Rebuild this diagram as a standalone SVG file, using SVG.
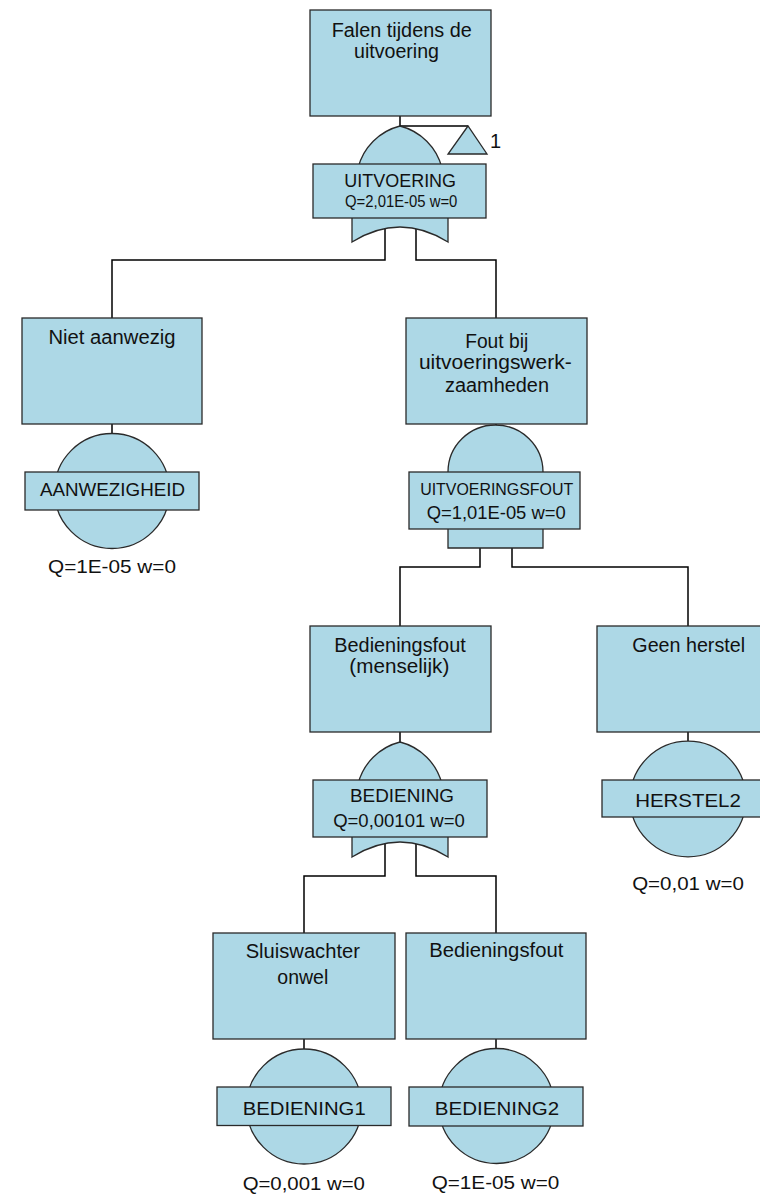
<svg xmlns="http://www.w3.org/2000/svg" width="760" height="1198" viewBox="0 0 760 1198">
<style>
.bx{fill:#ADD8E6;stroke:#2a2a2a;stroke-width:1.3}
.cn{fill:none;stroke:#000;stroke-width:1.5}
.t{font-family:"Liberation Sans",Arial,sans-serif;fill:#111;text-anchor:middle}
.b{font-size:20px}
.l{font-size:17.5px}
.e{font-size:18px}
</style>
<rect width="760" height="1198" fill="#fff"/>
<g id="connectors" class="cn">
<path d="M400,116 V126 H468"/>
<path d="M385,228 V260 H112 V318"/>
<path d="M416,228 V260 H496 V318"/>
<path d="M112,424 V433"/>
<path d="M496,424 V426"/>
<path d="M480,548 V567 H400 V626"/>
<path d="M512,548 V567 H688 V626"/>
<path d="M400,732 V742"/>
<path d="M688,732 V741"/>
<path d="M385,843 V876 H304 V933"/>
<path d="M416,843 V876 H496 V933"/>
<path d="M304,1039 V1049"/>
<path d="M496,1039 V1049"/>
</g>
<g id="top-uitvoering">
<rect class="bx" x="310" y="10" width="181" height="106"/>
<text class="t b" x="401.7" y="37" textLength="140" lengthAdjust="spacingAndGlyphs">Falen tijdens de</text>
<text class="t b" x="396.5" y="58" textLength="85" lengthAdjust="spacingAndGlyphs">uitvoering</text>
<path class="bx" d="M358,168 A58,58 0 0 1 400,126 A58,58 0 0 1 442,168 Z"/>
<path class="bx" d="M352,214 L352,242 Q400,212 448,242 L448,214 Z"/>
<rect class="bx" x="313" y="164" width="173" height="54"/>
<text class="t" style="font-size:18px" x="400.2" y="187.3" textLength="111.7" lengthAdjust="spacingAndGlyphs">UITVOERING</text>
<text class="t" style="font-size:16px" x="401.2" y="206.7" textLength="112.3" lengthAdjust="spacingAndGlyphs">Q=2,01E-05 w=0</text>
<polygon class="bx" points="468,126 448,154 487,154"/>
<text class="t b" x="490" y="148" style="text-anchor:start">1</text>
</g>
<g id="niet-aanwezig">
<rect class="bx" x="22" y="318" width="180" height="106"/>
<text class="t b" x="112" y="344" textLength="127" lengthAdjust="spacingAndGlyphs">Niet aanwezig</text>
<circle class="bx" cx="112" cy="491" r="57.5"/>
<rect class="bx" x="25" y="472" width="174" height="38"/>
<text class="t l" x="112.5" y="496" textLength="145" lengthAdjust="spacingAndGlyphs">AANWEZIGHEID</text>
<text class="t e" x="112" y="573" textLength="128" lengthAdjust="spacingAndGlyphs">Q=1E-05 w=0</text>
</g>
<g id="fout-uitvoering">
<rect class="bx" x="406" y="318" width="181" height="106"/>
<text class="t b" x="496.7" y="348.3" textLength="63" lengthAdjust="spacingAndGlyphs">Fout bij</text>
<text class="t b" x="495.3" y="369.3" textLength="152.7" lengthAdjust="spacingAndGlyphs">uitvoeringswerk-</text>
<text class="t b" x="497" y="391.7" textLength="104" lengthAdjust="spacingAndGlyphs">zaamheden</text>
<path class="bx" d="M448,548 V472 A47.5,47 0 0 1 543,472 V548 Z"/>
<rect class="bx" x="409" y="472" width="171" height="57"/>
<text class="t" style="font-size:16px" x="496.7" y="495" textLength="153" lengthAdjust="spacingAndGlyphs">UITVOERINGSFOUT</text>
<text class="t" style="font-size:18.5px" x="496.2" y="519.3" textLength="139" lengthAdjust="spacingAndGlyphs">Q=1,01E-05 w=0</text>
</g>
<g id="bediening-menselijk">
<rect class="bx" x="310" y="626" width="181" height="106"/>
<text class="t b" x="400" y="651.7" textLength="131.4" lengthAdjust="spacingAndGlyphs">Bedieningsfout</text>
<text class="t b" x="399.3" y="673" textLength="100" lengthAdjust="spacingAndGlyphs">(menselijk)</text>
<path class="bx" d="M358,784 A58,58 0 0 1 400,742 A58,58 0 0 1 442,784 Z"/>
<path class="bx" d="M352,832 L352,857 Q400,827 448,857 L448,832 Z"/>
<rect class="bx" x="313" y="780" width="174" height="57"/>
<text class="t l" x="402" y="802" textLength="104" lengthAdjust="spacingAndGlyphs">BEDIENING</text>
<text class="t l" x="399" y="826.7" textLength="131.7" lengthAdjust="spacingAndGlyphs">Q=0,00101 w=0</text>
</g>
<g id="geen-herstel">
<rect class="bx" x="597" y="626" width="181" height="106"/>
<text class="t b" x="688.7" y="651.7" textLength="112.7" lengthAdjust="spacingAndGlyphs">Geen herstel</text>
<circle class="bx" cx="688" cy="799" r="57.8"/>
<rect class="bx" x="602" y="780" width="174" height="37"/>
<text class="t l" x="688" y="807.3" textLength="105.7" lengthAdjust="spacingAndGlyphs">HERSTEL2</text>
<text class="t e" x="688" y="890" textLength="111.7" lengthAdjust="spacingAndGlyphs">Q=0,01 w=0</text>
</g>
<g id="sluiswachter">
<rect class="bx" x="213" y="933" width="182" height="106"/>
<text class="t b" x="302.8" y="958.3" textLength="114.3" lengthAdjust="spacingAndGlyphs">Sluiswachter</text>
<text class="t b" x="302.8" y="984" textLength="51" lengthAdjust="spacingAndGlyphs">onwel</text>
<circle class="bx" cx="304" cy="1106.5" r="57.5"/>
<rect class="bx" x="217" y="1087" width="174" height="38.5"/>
<text class="t e" x="304.2" y="1115" textLength="123" lengthAdjust="spacingAndGlyphs">BEDIENING1</text>
<text class="t e" x="303.8" y="1190" textLength="122.3" lengthAdjust="spacingAndGlyphs">Q=0,001 w=0</text>
</g>
<g id="bedieningsfout">
<rect class="bx" x="406" y="933" width="180" height="106"/>
<text class="t b" x="496.3" y="957.3" textLength="134" lengthAdjust="spacingAndGlyphs">Bedieningsfout</text>
<circle class="bx" cx="496.5" cy="1106" r="57.5"/>
<rect class="bx" x="409" y="1087" width="174" height="39"/>
<text class="t e" x="497" y="1115" textLength="124.3" lengthAdjust="spacingAndGlyphs">BEDIENING2</text>
<text class="t e" x="495.5" y="1189.3" textLength="127.7" lengthAdjust="spacingAndGlyphs">Q=1E-05 w=0</text>
</g>
</svg>
